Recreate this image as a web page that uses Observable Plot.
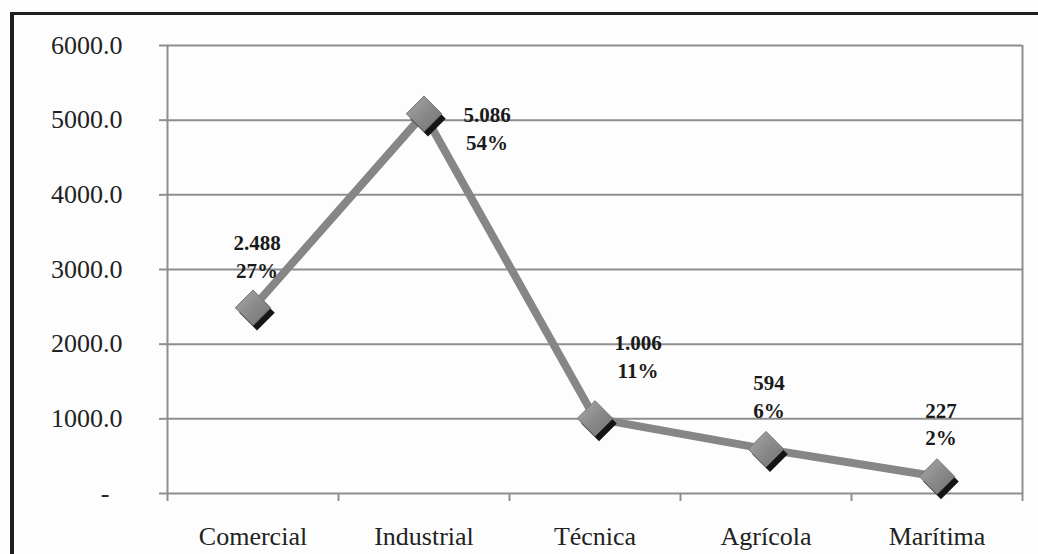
<!DOCTYPE html>
<html>
<head>
<meta charset="utf-8">
<script src="https://cdn.jsdelivr.net/npm/d3@7"></script>
<script src="https://cdn.jsdelivr.net/npm/@observablehq/plot@0.6"></script>
<style>
  html, body { margin: 0; padding: 0; background: #fdfdfd; }
  #wrap { position: relative; width: 1038px; height: 554px; overflow: hidden; }
  #border { position: absolute; left: 10px; top: 12px; width: 1100px; height: 700px;
            border-top: 3px solid #1e1e1e; border-left: 4px solid #1e1e1e; box-sizing: border-box; }
  #chart { position: absolute; left: 0; top: 0; }
</style>
</head>
<body>
<div id="wrap"><div id="border"></div><div id="chart"></div></div>
<script>
const categories = ["Comercial", "Industrial", "Técnica", "Agrícola", "Marítima"];
const values = [2488, 5086, 1006, 594, 227];
const percents = [27, 54, 11, 6, 2];
const yTicks = [0, 1000, 2000, 3000, 4000, 5000, 6000];

const fmtDot = d3.formatLocale({decimal: ",", thousands: ".", grouping: [3], currency: ["", ""]}).format(",d");
const data = categories.map((c, i) => ({
  category: c,
  pos: i + 0.5,
  value: values[i],
  label: fmtDot(values[i]) + "\n" + percents[i] + "%"
}));

// label placement (pixel offsets, styling only)
const labelOffset = {
  "Comercial": [4, -53],
  "Industrial": [63, 13],
  "Técnica": [43, -63],
  "Agrícola": [3, -54],
  "Marítima": [4, -54]
};

const grid = "#8e8e8e";
const font = "'Liberation Serif', 'Times New Roman', serif";

const chart = Plot.plot({
  width: 1038,
  height: 554,
  marginLeft: 167,
  marginRight: 16,
  marginTop: 45,
  marginBottom: 61,
  style: {fontFamily: font, fontSize: "26px", color: "#222", background: "transparent"},
  x: {type: "linear", domain: [0, 5]},
  y: {domain: [0, 6000]},
  marks: [
    Plot.ruleY(yTicks, {stroke: grid, strokeWidth: 2}),
    Plot.ruleX([0, 5], {y1: 0, y2: 6000, stroke: grid, strokeWidth: 2}),
    Plot.axisY({ticks: yTicks, tickSize: 8, tickPadding: 37, label: null, stroke: grid, strokeWidth: 2, strokeOpacity: 1,
      fill: "#222", tickFormat: d => d === 0 ? "-\u2007" : d.toFixed(1)}),
    Plot.axisX({ticks: [0, 1, 2, 3, 4, 5], tickSize: 8, label: null, stroke: grid, strokeWidth: 2, strokeOpacity: 1,
      tickFormat: () => ""}),
    Plot.axisX({ticks: data.map(d => d.pos), tickSize: 0, tickPadding: 33, label: null, fill: "#222",
      tickFormat: v => categories[Math.floor(v)]}),
    Plot.line(data, {x: "pos", y: "value", stroke: "#868686", strokeWidth: 8}),
    Plot.dot(data, {x: "pos", y: "value", symbol: "diamond2", r: 16, fill: "#151515", dx: 4, dy: 5}),
    Plot.dot(data, {x: "pos", y: "value", symbol: "diamond2", r: 16, fill: "url(#dgrad)", stroke: "#777", strokeWidth: 1}),
    ...data.map(d => Plot.text([d], {x: "pos", y: "value", text: "label",
      dx: labelOffset[d.category][0], dy: labelOffset[d.category][1],
      fontSize: 21, fontWeight: "bold", fill: "#1a1a1a", lineHeight: 1.33, fontFamily: font}))
  ]
});

const ns = "http://www.w3.org/2000/svg";
const defs = document.createElementNS(ns, "defs");
defs.innerHTML = `<linearGradient id="dgrad" x1="0" y1="0" x2="1" y2="1">
  <stop offset="0" stop-color="#aaaaaa"/>
  <stop offset="0.5" stop-color="#8a8a8a"/>
  <stop offset="1" stop-color="#737373"/>
</linearGradient>`;
chart.insertBefore(defs, chart.firstChild);
document.getElementById("chart").appendChild(chart);
</script>
</body>
</html>
